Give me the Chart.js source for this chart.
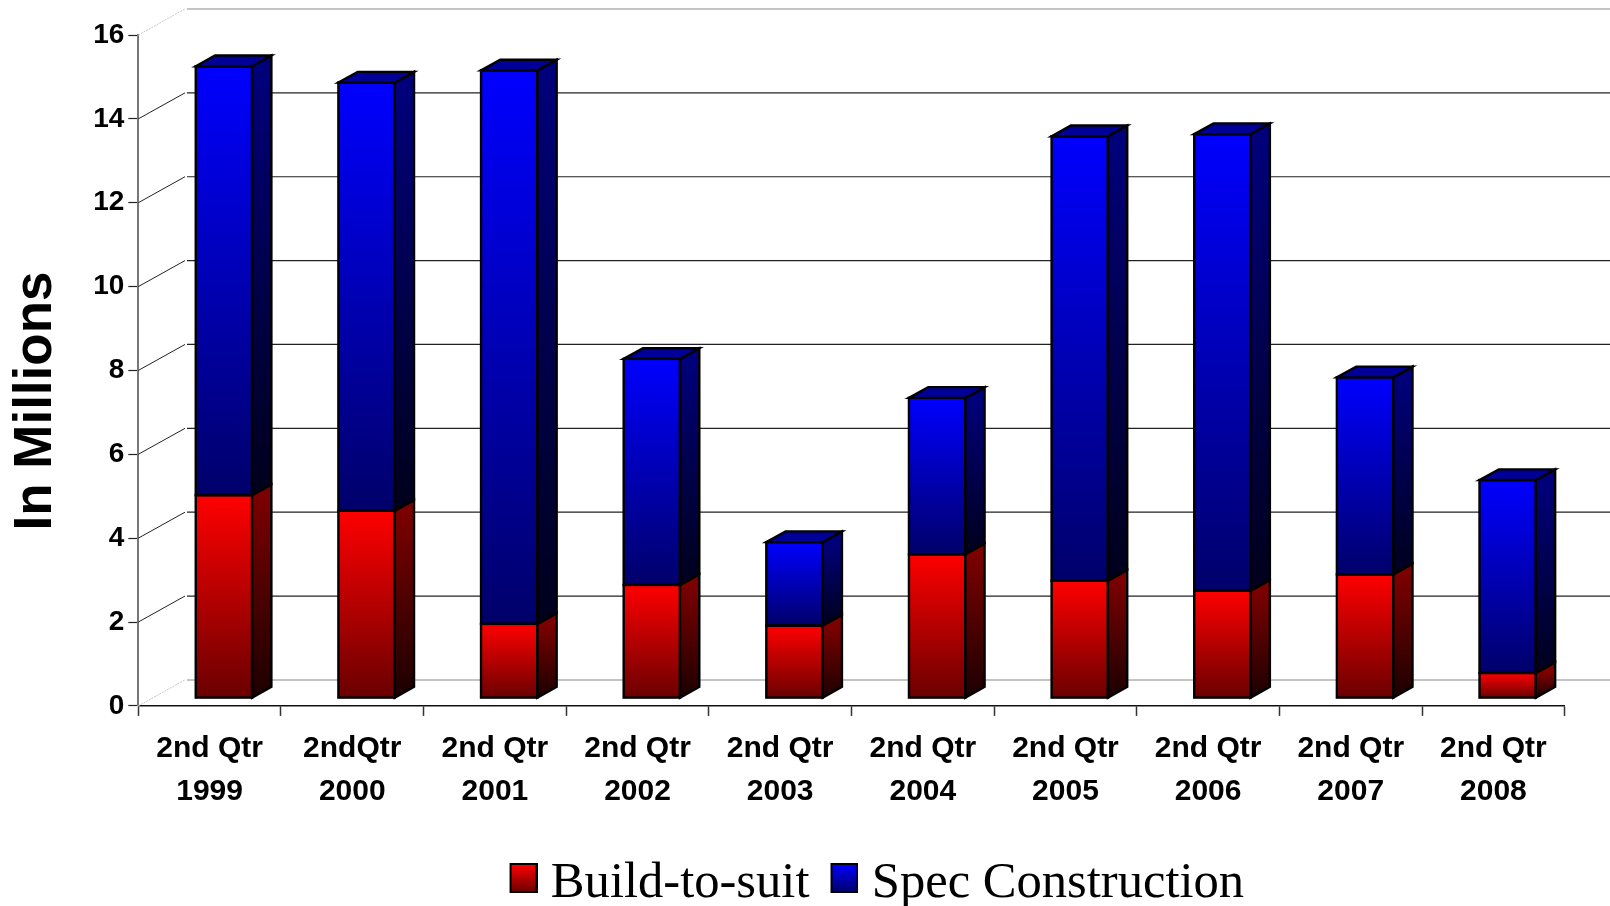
<!DOCTYPE html>
<html>
<head>
<meta charset="utf-8">
<title>Build-to-suit and Spec Construction</title>
<script src="https://cdn.jsdelivr.net/npm/chart.js@4/dist/chart.umd.min.js"></script>
<style>
  html, body { margin: 0; padding: 0; background: #fff; }
  canvas { display: block; }
</style>
</head>
<body>
<canvas id="chart" width="1610" height="906"></canvas>
<script>
const categories = [
  ['2nd Qtr', '1999'], ['2ndQtr', '2000'], ['2nd Qtr', '2001'], ['2nd Qtr', '2002'], ['2nd Qtr', '2003'],
  ['2nd Qtr', '2004'], ['2nd Qtr', '2005'], ['2nd Qtr', '2006'], ['2nd Qtr', '2007'], ['2nd Qtr', '2008']
];
const buildToSuit = [4.84, 4.47, 1.77, 2.70, 1.73, 3.43, 2.80, 2.56, 2.95, 0.60];
const specConstruction = [10.23, 10.21, 13.20, 5.39, 1.99, 3.73, 10.60, 10.89, 4.70, 4.60];

const yAxisTitle = 'In Millions';

// fake 3D: how far the bars sit in front of the wall, and how deep they are
const WALL = { dx: 47.7, dy: -26 };
const BAR_SHIFT = { dx: 14.3, dy: -7.8 };
const BAR_DEPTH = { dx: 19.3, dy: -10.7 };
const LEGEND_SHIFT = 85;

const RED = { front: ['#ff0000', '#6a0000'], side: ['#7c0000', '#1c0000'] };
const BLUE = { front: ['#0000ff', '#00006a'], side: ['#00007c', '#00001c'], top: '#000099' };

function verticalGradient(ctx, top, bottom, colors) {
  const g = ctx.createLinearGradient(0, top, 0, bottom);
  g.addColorStop(0, colors[0]);
  g.addColorStop(1, colors[1]);
  return g;
}

function legendSwatch(colors) {
  // transparent margins keep the box close to the text and a little above its middle
  const c = document.createElement('canvas');
  c.width = 59;
  c.height = 42;
  const g = c.getContext('2d');
  g.fillStyle = verticalGradient(g, 1, 29, colors);
  g.fillRect(32, 1, 26, 28);
  g.strokeStyle = '#000';
  g.lineWidth = 2;
  g.strokeRect(32, 1, 26, 28);
  return c;
}

const cube3dPlugin = {
  id: 'cube3d',
  afterLayout(chart) {
    // the legend is not centred on the canvas in the original
    chart.legend.left += LEGEND_SHIFT;
    chart.legend.right += LEGEND_SHIFT;
  },
  beforeDatasetsDraw(chart) {
    const { ctx, scales: { x, y } } = chart;
    ctx.save();
    // back wall and its grid lines
    y.ticks.forEach(t => {
      const py = y.getPixelForValue(t.value);
      const edge = t.value === y.min || t.value === y.max;
      ctx.strokeStyle = edge ? '#c4c4c4' : '#222';
      ctx.lineWidth = 1;
      ctx.setLineDash(edge ? [2, 1] : []);
      ctx.beginPath();
      ctx.moveTo(x.left, py);
      ctx.lineTo(x.left + WALL.dx - 1, py + WALL.dy);
      ctx.stroke();
      ctx.setLineDash([]);
      ctx.lineWidth = edge ? 2 : 1.2;
      ctx.beginPath();
      ctx.moveTo(x.left + WALL.dx + 1, py + WALL.dy);
      ctx.lineTo(chart.width, py + WALL.dy);
      ctx.stroke();
    });
    ctx.restore();
    ctx.save();
    ctx.translate(BAR_SHIFT.dx, BAR_SHIFT.dy);
  },
  afterDatasetsDraw(chart) {
    const { ctx } = chart;
    ctx.strokeStyle = '#000';
    ctx.lineWidth = 2.4;
    ctx.lineJoin = 'miter';
    chart.data.datasets.forEach((ds, di) => {
      const colors = di === 0 ? RED : BLUE;
      chart.getDatasetMeta(di).data.forEach(bar => {
        const { x, y, base, width } = bar.getProps(['x', 'y', 'base', 'width'], true);
        const l = x - width / 2, r = x + width / 2;
        ctx.strokeRect(l, y, width, base - y);
        ctx.fillStyle = verticalGradient(ctx, y, base, colors.side);
        ctx.beginPath();
        ctx.moveTo(r, y);
        ctx.lineTo(r + BAR_DEPTH.dx, y + BAR_DEPTH.dy);
        ctx.lineTo(r + BAR_DEPTH.dx, base + BAR_DEPTH.dy);
        ctx.lineTo(r, base);
        ctx.closePath();
        ctx.fill();
        ctx.stroke();
        if (di === chart.data.datasets.length - 1) {
          ctx.fillStyle = colors.top;
          ctx.beginPath();
          ctx.moveTo(l, y);
          ctx.lineTo(l + BAR_DEPTH.dx, y + BAR_DEPTH.dy);
          ctx.lineTo(r + BAR_DEPTH.dx, y + BAR_DEPTH.dy);
          ctx.lineTo(r, y);
          ctx.closePath();
          ctx.fill();
          ctx.stroke();
        }
      });
    });
    ctx.restore();
  },
  afterDraw(chart) {
    // axis title sits lower than the axis centre in the original
    const { ctx } = chart;
    ctx.save();
    ctx.translate(36, 401);
    ctx.rotate(-Math.PI / 2);
    ctx.font = 'bold 53px "Liberation Sans"';
    ctx.fillStyle = '#000';
    ctx.textAlign = 'center';
    ctx.textBaseline = 'middle';
    ctx.fillText(yAxisTitle, 0, 0);
    ctx.restore();
  }
};

function segmentFill(colors, lowerValues, values) {
  return c => {
    const y = c.chart.scales.y;
    if (!y || c.dataIndex === undefined) return colors[0];
    const low = lowerValues ? lowerValues[c.dataIndex] : 0;
    const top = y.getPixelForValue(low + values[c.dataIndex]);
    const bottom = y.getPixelForValue(low);
    if (!Number.isFinite(top) || !Number.isFinite(bottom)) return colors[0];
    return verticalGradient(c.chart.ctx, top, bottom, colors);
  };
}

const tickFont = { family: '"Liberation Sans"', weight: 'bold', size: 28 };

new Chart(document.getElementById('chart'), {
  type: 'bar',
  data: {
    labels: categories,
    datasets: [
      {
        label: 'Build-to-suit',
        data: buildToSuit,
        backgroundColor: segmentFill(RED.front, null, buildToSuit),
        pointStyle: legendSwatch(RED.front)
      },
      {
        label: 'Spec Construction',
        data: specConstruction,
        backgroundColor: segmentFill(BLUE.front, buildToSuit, specConstruction),
        pointStyle: legendSwatch(BLUE.front)
      }
    ]
  },
  options: {
    responsive: false,
    animation: false,
    layout: { padding: { top: 35, right: 45.3, left: 0, bottom: -13.3 } },
    datasets: {
      bar: {
        borderWidth: 0,
        categoryPercentage: 1,
        barPercentage: 0.395
      }
    },
    plugins: {
      title: { display: false },
      tooltip: { enabled: false },
      legend: {
        position: 'bottom',
        labels: {
          usePointStyle: true,
          pointStyleWidth: 35,
          padding: 2,
          color: '#000',
          font: { family: '"Liberation Serif"', size: 50.6 }
        }
      }
    },
    scales: {
      x: {
        stacked: true,
        afterFit: s => { s.height = 150.8; },
        grid: { drawOnChartArea: false, tickLength: 10, tickColor: '#333', tickWidth: 1.5 },
        border: { color: '#111', width: 1.5 },
        ticks: {
          color: '#000',
          font: { ...tickFont, size: 30, lineHeight: 1.43 },
          autoSkip: false,
          maxRotation: 0,
          padding: 11
        }
      },
      y: {
        stacked: true,
        min: 0,
        max: 16,
        afterFit: s => { s.width = 138.3; },
        grid: { drawOnChartArea: false, tickLength: 10, tickColor: '#222', tickWidth: 1.2 },
        border: { color: '#777', width: 2 },
        ticks: { color: '#000', font: tickFont, stepSize: 2, padding: 4 }
      }
    }
  },
  plugins: [cube3dPlugin]
});
</script>
</body>
</html>
